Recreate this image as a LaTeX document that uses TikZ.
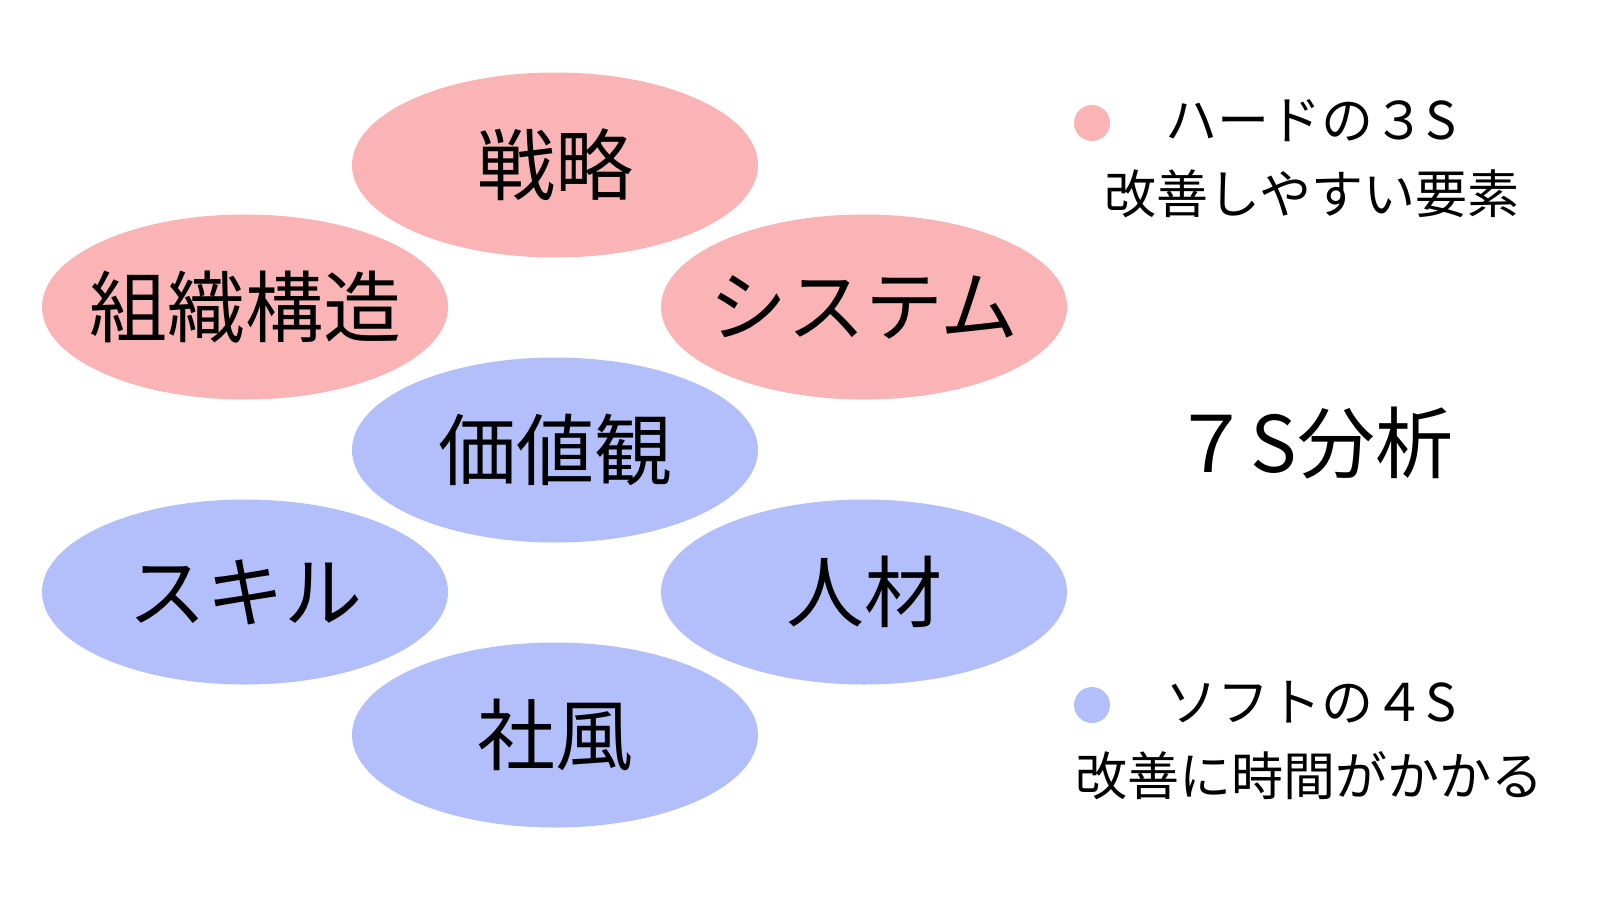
\documentclass[tikz,border=0pt]{standalone}
\usepackage{fontspec}
\setmainfont{Noto Sans CJK JP}
\usepackage{xcolor}
\usetikzlibrary{shapes.geometric}

\definecolor{hardpink}{RGB}{251,180,181}
\definecolor{softblue}{RGB}{178,191,250}

\tikzset{
    elem/.style={ellipse, minimum width=406pt, minimum height=185pt,
        inner xsep=-60pt, inner ysep=0pt,
        font=\fontsize{78}{80}\selectfont},
    hard/.style={elem, fill=hardpink},
    soft/.style={elem, fill=softblue},
    title/.style={font=\fontsize{78}{80}\selectfont, inner sep=0pt},
    dot/.style={circle, minimum size=36pt, inner sep=0pt},
    note/.style={font=\fontsize{52}{56}\selectfont, inner sep=0pt}
}

\begin{document}
\begin{tikzpicture}[x=1pt,y=-1pt]
    % 画布
    \useasboundingbox (0,0) rectangle (1600,900);

    % 七个要素
    \node[hard] (senryaku) at (555,165) {戦略};
    \node[hard] (soshiki)  at (245,307) {組織構造};
    \node[hard] (system)   at (864,307) {システム};
    \node[soft] (kachi)    at (555,450) {価値観};
    \node[soft] (skill)    at (245,592) {スキル};
    \node[soft] (jinzai)   at (864,592) {人材};
    \node[soft] (shafu)    at (555,735) {社風};

    % 标题
    \node[title] (name) at (1313,443) {７S分析};

    % 图例
    \node[dot, fill=hardpink] (harddot) at (1092,123) {};
    \node[note] (hardname) at (1311,121) {ハードの３S};
    \node[note] (hardtext) at (1312,194) {改善しやすい要素};

    \node[dot, fill=softblue] (softdot) at (1092,705) {};
    \node[note] (softname) at (1311,702) {ソフトの４S};
    \node[note] (softtext) at (1309,776) {改善に時間がかかる};
\end{tikzpicture}
\end{document}
